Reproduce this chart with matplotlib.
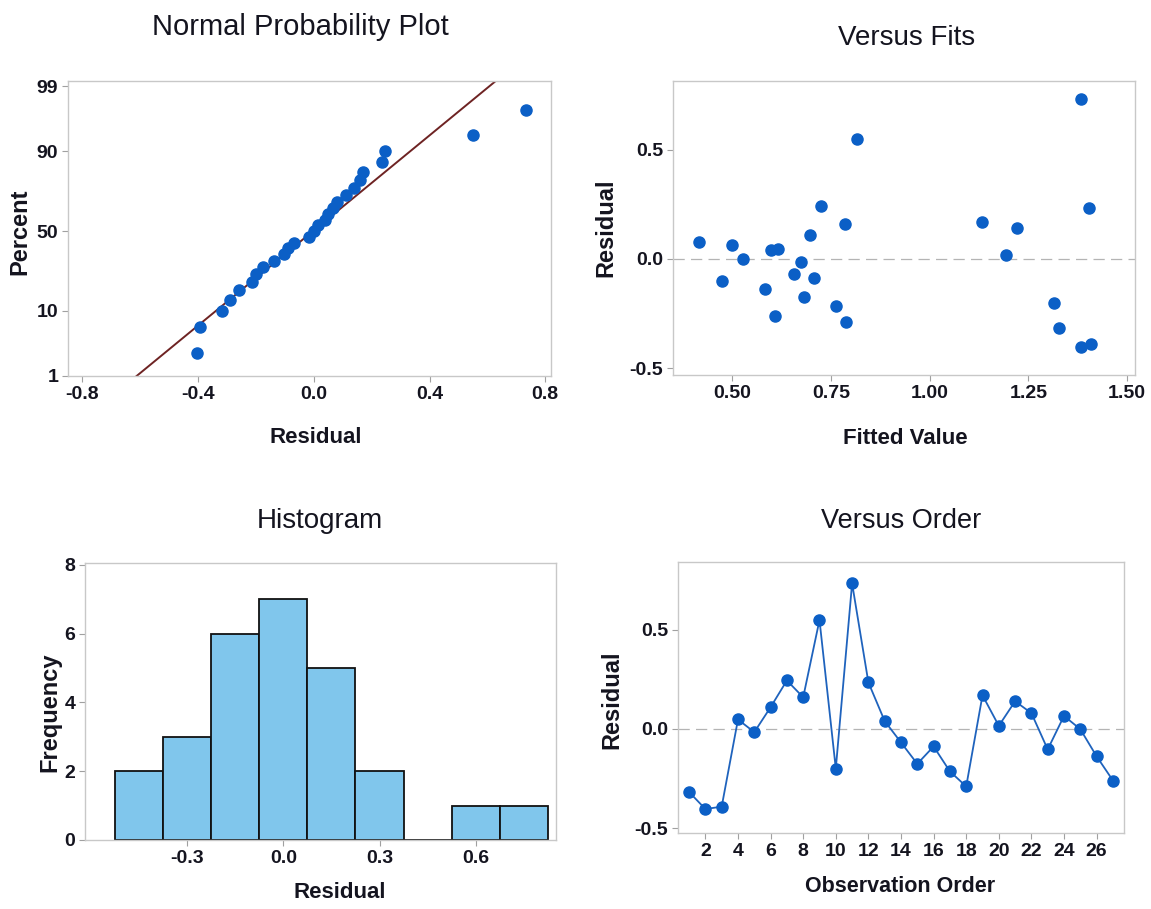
import math
import numpy as np
import matplotlib
matplotlib.use("Agg")
import matplotlib.pyplot as plt
from matplotlib.ticker import FixedLocator, FormatStrFormatter

# ---------------- data ----------------
observation = list(range(1, 28))
residuals = [-0.318, -0.404, -0.392, 0.048, -0.016, 0.110, 0.245, 0.160, 0.550,
             -0.200, 0.735, 0.235, 0.040, -0.068, -0.176, -0.088, -0.214, -0.290,
             0.170, 0.016, 0.140, 0.080, -0.103, 0.066, -0.001, -0.138, -0.260]
fitted = [1.328, 1.384, 1.409, 0.615, 0.673, 0.698, 0.724, 0.786, 0.815,
          1.315, 1.384, 1.403, 0.598, 0.657, 0.682, 0.708, 0.764, 0.789,
          1.133, 1.194, 1.220, 0.416, 0.474, 0.500, 0.527, 0.583, 0.609]
hist_bin_start = -0.525
hist_bin_width = 0.15
hist_bin_count = 9

npp_xticks = [-0.8, -0.4, 0.0, 0.4, 0.8]
npp_yticks = [1, 10, 50, 90, 99]
fits_xticks = [0.50, 0.75, 1.00, 1.25, 1.50]
res_yticks = [-0.5, 0.0, 0.5]
hist_xticks = [-0.3, 0.0, 0.3, 0.6]
hist_yticks = [0, 2, 4, 6, 8]
order_xticks = list(range(2, 27, 2))

# ---------------- style ----------------
W, H = 1151, 909
plt.rcParams['axes.unicode_minus'] = False
plt.rcParams['font.family'] = ['Liberation Sans', 'DejaVu Sans']
TXT = '#14141f'
BLUE = '#0b5fc6'
FRAME = '#c8c8c8'
MS = 8

fig = plt.figure(figsize=(W / 100, H / 100), dpi=100)
fig.patch.set_facecolor('white')


def box(l, t, r, b):
    return [l / W, 1 - b / H, (r - l) / W, (b - t) / H]


def style(ax):
    for s in ax.spines.values():
        s.set_color(FRAME)
        s.set_linewidth(1.0)
    ax.tick_params(direction='out', length=4, width=0.8, color='#a0a0a0',
                   labelsize=14, labelcolor=TXT, pad=3)
    for lab in ax.get_xticklabels() + ax.get_yticklabels():
        lab.set_fontweight('bold')


def ftext(x, y, s, size, rot=0, weight='bold'):
    fig.text(x / W, 1 - y / H, s, ha='center', va='center', rotation=rot,
             fontsize=size, color=TXT, fontweight=weight)


# ---------- normal probability helpers ----------
def norm_ppf(p):
    p = np.clip(np.asarray(p, float), 1e-9, 1 - 1e-9)
    a = [-3.969683028665376e+01, 2.209460984245205e+02, -2.759285104469687e+02,
         1.383577518672690e+02, -3.066479806614716e+01, 2.506628277459239e+00]
    b = [-5.447609879822406e+01, 1.615858368580409e+02, -1.556989798598866e+02,
         6.680131188771972e+01, -1.328068155288572e+01]
    c = [-7.784894002430293e-03, -3.223964580411365e-01, -2.400758277161838e+00,
         -2.549671010020022e+00, 4.374664141464968e+00, 2.938163982698783e+00]
    d = [7.784695709041462e-03, 3.224671290700398e-01, 2.445134137142996e+00,
         3.754408661907416e+00]
    plow = 0.02425
    out = np.empty_like(p)
    lo = p < plow
    hi = p > 1 - plow
    mid = ~(lo | hi)
    q = np.sqrt(-2 * np.log(p[lo]))
    out[lo] = (((((c[0]*q+c[1])*q+c[2])*q+c[3])*q+c[4])*q+c[5]) / ((((d[0]*q+d[1])*q+d[2])*q+d[3])*q+1)
    q = np.sqrt(-2 * np.log(1 - p[hi]))
    out[hi] = -(((((c[0]*q+c[1])*q+c[2])*q+c[3])*q+c[4])*q+c[5]) / ((((d[0]*q+d[1])*q+d[2])*q+d[3])*q+1)
    q = p[mid] - 0.5
    r = q * q
    out[mid] = (((((a[0]*r+a[1])*r+a[2])*r+a[3])*r+a[4])*r+a[5])*q / (((((b[0]*r+b[1])*r+b[2])*r+b[3])*r+b[4])*r+1)
    return out


_erf = np.vectorize(math.erf)


def pct_forward(pct):
    return norm_ppf(np.asarray(pct, float) / 100.0)


def pct_inverse(z):
    return 50.0 * (1 + _erf(np.asarray(z, float) / math.sqrt(2)))


res = np.array(residuals)
n = len(res)

# ---------------- Normal probability plot ----------------
ax1 = fig.add_axes(box(68, 81, 551, 376))
ax1.set_yscale('function', functions=(pct_forward, pct_inverse))
srt = np.sort(res)
pct = 100 * (np.arange(1, n + 1) - 0.3) / (n + 0.4)
mu, sd = res.mean(), res.std(ddof=1)
pline = np.linspace(0.5, 99.5, 200)
ax1.plot(mu + sd * pct_forward(pline), pline, color='#6e2323', lw=1.4, zorder=2)
ax1.plot(srt, pct, 'o', color=BLUE, ms=MS, mec=BLUE, zorder=3)
ax1.set_xlim(-0.85, 0.82)
ax1.set_ylim(1, 99.2)
ax1.yaxis.set_major_locator(FixedLocator(npp_yticks))
ax1.yaxis.set_minor_locator(FixedLocator([]))
ax1.set_yticks(npp_yticks)
ax1.set_yticklabels([str(v) for v in npp_yticks])
ax1.set_xticks(npp_xticks)
ax1.xaxis.set_major_formatter(FormatStrFormatter('%.1f'))
style(ax1)

# ---------------- Versus fits ----------------
ax2 = fig.add_axes(box(673, 81, 1135, 375))
ax2.axhline(0, color='#b4b4b4', lw=0.9, ls=(0, (9, 5)), zorder=1)
ax2.plot(fitted, residuals, 'o', color=BLUE, ms=MS, mec=BLUE, zorder=3)
ax2.set_xlim(0.35, 1.52)
ax2.set_ylim(-0.532, 0.816)
ax2.set_xticks(fits_xticks)
ax2.xaxis.set_major_formatter(FormatStrFormatter('%.2f'))
ax2.set_yticks(res_yticks)
ax2.yaxis.set_major_formatter(FormatStrFormatter('%.1f'))
style(ax2)

# ---------------- Histogram ----------------
ax3 = fig.add_axes(box(85, 563, 556, 840))
edges = np.linspace(hist_bin_start, hist_bin_start + hist_bin_width * hist_bin_count,
                    hist_bin_count + 1)
ax3.hist(residuals, bins=edges, color='#80c6ec', edgecolor='#111111', linewidth=1.3)
ax3.set_xlim(-0.618, 0.85)
ax3.set_ylim(0, 8.05)
ax3.set_xticks(hist_xticks)
ax3.xaxis.set_major_formatter(FormatStrFormatter('%.1f'))
ax3.set_yticks(hist_yticks)
style(ax3)

# ---------------- Versus order ----------------
ax4 = fig.add_axes(box(678, 562, 1124, 833))
ax4.axhline(0, color='#b4b4b4', lw=0.9, ls=(0, (9, 5)), zorder=1)
ax4.plot(observation, residuals, '-o', color='#1f63bd', lw=1.3, ms=MS,
         mfc=BLUE, mec=BLUE, zorder=3)
ax4.set_xlim(0.32, 27.68)
ax4.set_ylim(-0.525, 0.843)
ax4.set_xticks(order_xticks)
ax4.set_yticks(res_yticks)
ax4.yaxis.set_major_formatter(FormatStrFormatter('%.1f'))
style(ax4)

# ---------------- titles and labels ----------------
ftext(300, 27, 'Normal Probability Plot', 21, weight='normal')
ftext(907, 38, 'Versus Fits', 20, weight='normal')
ftext(320, 521, 'Histogram', 20, weight='normal')
ftext(901, 521, 'Versus Order', 19.5, weight='normal')

ftext(316, 437, 'Residual', 16)
ftext(905, 438, 'Fitted Value', 16)
ftext(340, 892, 'Residual', 16)
ftext(900, 887, 'Observation Order', 15.5)

ftext(20, 232, 'Percent', 17, rot=90)
ftext(606, 228, 'Residual', 17, rot=90)
ftext(50, 712, 'Frequency', 17, rot=90)
ftext(612, 700, 'Residual', 17, rot=90)

fig.savefig('out.png', dpi=100, facecolor='white')
